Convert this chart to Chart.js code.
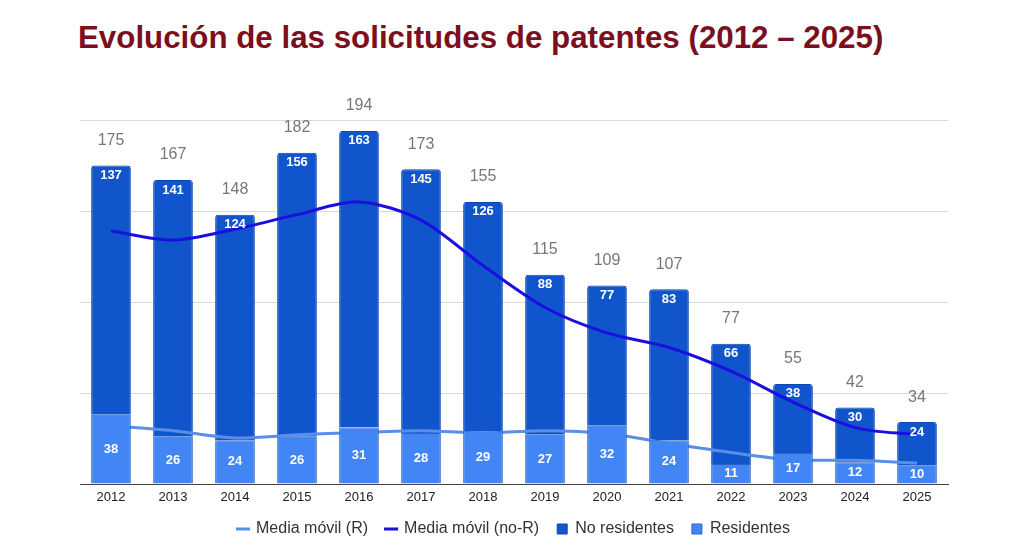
<!DOCTYPE html>
<html>
<head>
<meta charset="utf-8">
<script src="https://cdn.jsdelivr.net/npm/chart.js@4.4.1/dist/chart.umd.min.js"></script>
<style>
html,body{margin:0;padding:0;background:#fff;}
#title{
position:absolute;
left:78px;
top:20px;
margin:0;
font-family:"Liberation Sans",Arial,sans-serif;
font-weight:bold;
font-size:31.3px;
color:#7b0f1d;
}
#wrap{position:absolute;left:0;top:0;width:1024px;height:553px;}
</style>
</head>
<body>

<h1 id="title">Evolución de las solicitudes de patentes (2012 – 2025)</h1>

<div id="wrap"><canvas id="chart"></canvas></div>

<script>

const years = ["2012","2013","2014","2015","2016","2017","2018","2019","2020","2021","2022","2023","2024","2025"];

const residentes = [38,26,24,26,31,28,29,27,32,24,11,17,12,10];

const noResidentes = [137,141,124,156,163,145,126,88,77,83,66,38,30,24];

const totales = [175,167,148,182,194,173,155,115,109,107,77,55,42,34];

const mediaR = [32,29.3,25.3,27,28.3,29.3,28,29.3,27.7,22.3,17.3,13.3,13,11.5];

const mediaNoR = [139,134,140,148,155,145,120,97,83,75,62,45,31,27];

/* legend order in the picture */
const legendOrder = [2,3,1,0];


const barLabels = {

id:"barLabels",

afterDatasetsDraw(chart){

const ctx = chart.ctx;

ctx.save();
ctx.textAlign = "center";
ctx.textBaseline = "middle";

const resMeta = chart.getDatasetMeta(0);
const noResMeta = chart.getDatasetMeta(1);

ctx.fillStyle = "#ffffff";
ctx.font = "bold 13px 'Liberation Sans', Arial, sans-serif";

resMeta.data.forEach((bar,i) => {
ctx.fillText(residentes[i], bar.x, (bar.y + bar.base)/2);
});

noResMeta.data.forEach((bar,i) => {
ctx.fillText(noResidentes[i], bar.x, bar.y + 10);
});

ctx.fillStyle = "#777777";
ctx.font = "16px 'Liberation Sans', Arial, sans-serif";

noResMeta.data.forEach((bar,i) => {
ctx.fillText(totales[i], bar.x, bar.y - 25);
});

ctx.restore();

}

};


const ctx = document.getElementById("chart").getContext("2d");

new Chart(ctx,{

data:{
labels:years,
datasets:[
{
type:"bar",
label:"Residentes",
data:residentes,
backgroundColor:"#4285f4",
borderColor:"#2f64c4",
borderWidth:1,
stack:"bars",
order:2,
pointStyle:"rect"
},
{
type:"bar",
label:"No residentes",
data:noResidentes,
backgroundColor:"#1155cc",
borderColor:"#0d47b0",
borderWidth:1,
borderRadius:{topLeft:3,topRight:3},
borderSkipped:"bottom",
stack:"bars",
order:4,
pointStyle:"rect"
},
{
type:"line",
label:"Media móvil (R)",
data:mediaR,
borderColor:"#5a8fe8",
backgroundColor:"#5a8fe8",
borderWidth:3,
pointRadius:0,
tension:0.3,
stack:"r",
order:3,
pointStyle:"line"
},
{
type:"line",
label:"Media móvil (no-R)",
data:mediaNoR,
borderColor:"#1a0fe0",
backgroundColor:"#1a0fe0",
borderWidth:3,
pointRadius:0,
tension:0.3,
stack:"nr",
order:1,
pointStyle:"line"
}
]
},

options:{
responsive:true,
maintainAspectRatio:false,
animation:false,
layout:{
padding:{left:80,right:76,top:120,bottom:6}
},
datasets:{
bar:{
categoryPercentage:1,
barPercentage:0.64
}
},
scales:{
x:{
stacked:true,
grid:{display:false,drawTicks:false},
border:{display:true,color:"#444444",width:1},
ticks:{
padding:6,
color:"#222222",
font:{family:"'Liberation Sans', Arial, sans-serif",size:13}
},
afterFit(scale){
scale.height = 19;
}
},
y:{
stacked:true,
min:0,
max:200,
ticks:{display:false,stepSize:50},
grid:{color:"#d9d9d9",drawTicks:false},
border:{display:false}
}
},
plugins:{
legend:{
position:"bottom",
labels:{
usePointStyle:true,
boxWidth:10,
boxHeight:10,
padding:18,
color:"#333333",
font:{family:"'Liberation Sans', Arial, sans-serif",size:16},
sort:(a,b) => legendOrder.indexOf(a.datasetIndex) - legendOrder.indexOf(b.datasetIndex)
}
},
tooltip:{enabled:false}
}
},

plugins:[barLabels]

});

</script>

</body>
</html>
